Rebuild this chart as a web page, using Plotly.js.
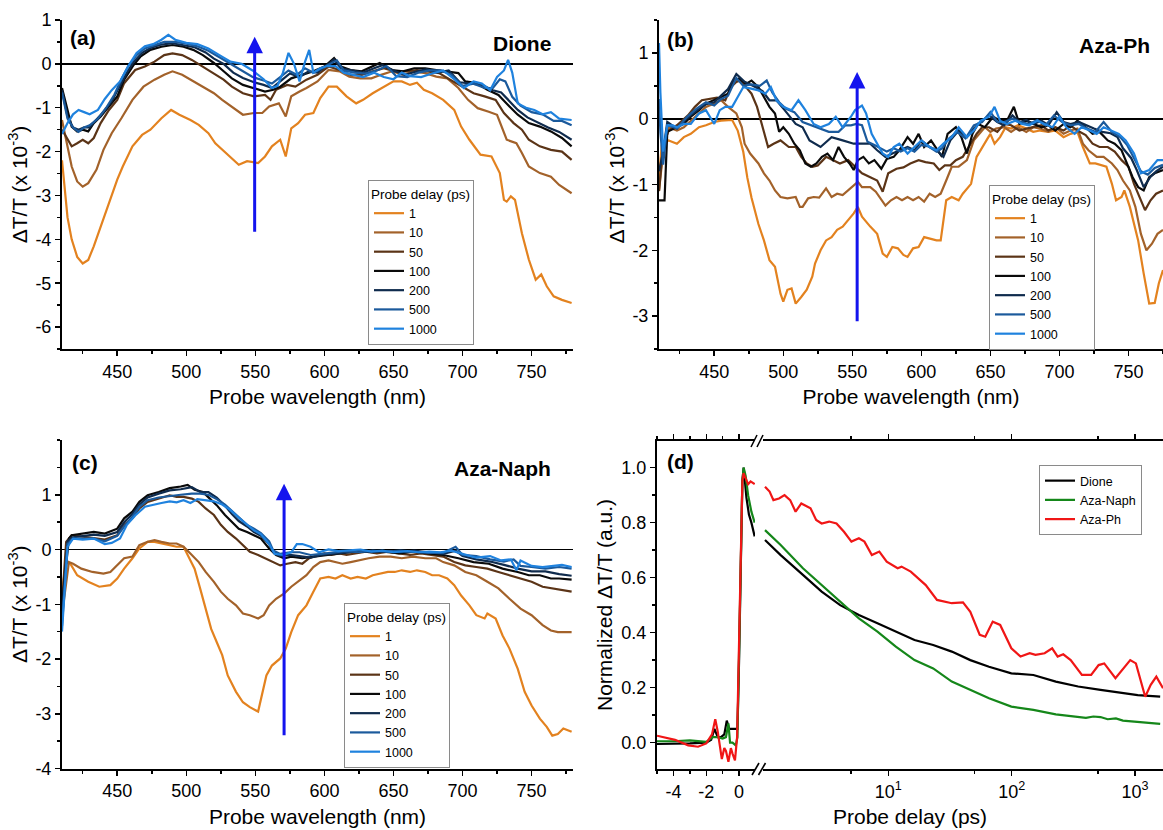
<!DOCTYPE html>
<html><head><meta charset="utf-8">
<script src="https://cdn.plot.ly/plotly-3.0.1.min.js"></script>
<style>html,body{margin:0;padding:0;background:#fff}#chart{width:1163px;height:830px}</style>
</head><body><div id="chart"></div>
<script>
// ---------------- DATA ----------------
const delays = ['1','10','50','100','200','500','1000'];
// Panel (a) Dione : [wavelength nm, dT/T x1e-3]
const a1 = [[410,-2.2],[414,-3.5],[417,-4.0],[421,-4.4],[425,-4.55],[429,-4.47],[433,-4.16],[438,-3.7],[444,-3.17],[450,-2.64],[454,-2.34],[461,-1.88],[468,-1.62],[474,-1.5],[482,-1.24],[489,-1.05],[495,-1.16],[503,-1.28],[509,-1.39],[516,-1.58],[521,-1.81],[530,-2.07],[538,-2.3],[544,-2.22],[552,-2.26],[557,-2.11],[562,-1.88],[568,-1.73],[572,-2.11],[576,-1.47],[581,-1.35],[586,-1.16],[592,-1.12],[597,-0.78],[603,-0.52],[609,-0.52],[616,-0.74],[623,-0.9],[628,-0.82],[635,-0.67],[643,-0.52],[650,-0.4],[656,-0.4],[662,-0.48],[667,-0.43],[672,-0.59],[678,-0.67],[686,-0.82],[694,-1.05],[699,-1.43],[705,-1.73],[713,-2.07],[721,-2.11],[727,-2.49],[730,-3.1],[732,-3.14],[735,-3.02],[738,-3.1],[743,-3.86],[748,-4.46],[753,-4.92],[757,-4.8],[761,-5.07],[766,-5.3],[772,-5.38],[779,-5.45]];
const a10 = [[410,-1.28],[413,-1.73],[417,-2.34],[421,-2.68],[425,-2.8],[429,-2.72],[435,-2.41],[440,-1.96],[446,-1.58],[453,-1.24],[461,-0.82],[469,-0.52],[477,-0.36],[484,-0.25],[490,-0.17],[497,-0.25],[503,-0.36],[511,-0.52],[520,-0.67],[526,-0.82],[533,-0.97],[541,-1.16],[549,-1.12],[555,-1.12],[560,-0.97],[567,-0.9],[572,-1.2],[576,-0.74],[582,-0.63],[587,-0.55],[595,-0.4],[603,-0.14],[611,-0.17],[618,-0.29],[626,-0.33],[634,-0.33],[641,-0.25],[649,-0.17],[657,-0.25],[665,-0.17],[673,-0.21],[681,-0.29],[689,-0.33],[697,-0.55],[704,-0.82],[711,-1.01],[719,-1.09],[725,-1.16],[732,-1.73],[739,-1.81],[743,-2.03],[748,-2.34],[756,-2.49],[764,-2.57],[770,-2.76],[779,-2.95]];
const a50 = [[410,-1.5],[417,-1.88],[421,-1.81],[425,-1.73],[429,-1.81],[433,-1.69],[438,-1.35],[444,-1.05],[450,-0.82],[455,-0.44],[463,-0.14],[470,-0.06],[477,0.05],[484,0.2],[490,0.24],[497,0.2],[504,0.09],[512,-0.06],[520,-0.21],[527,-0.36],[533,-0.52],[541,-0.67],[549,-0.74],[557,-0.71],[561,-0.82],[565,-0.59],[573,-0.48],[579,-0.52],[587,-0.36],[595,-0.25],[603,-0.06],[611,-0.14],[619,-0.25],[627,-0.25],[635,-0.17],[643,-0.1],[651,-0.17],[659,-0.17],[667,-0.14],[675,-0.17],[683,-0.21],[691,-0.36],[700,-0.52],[708,-0.67],[716,-0.74],[724,-0.82],[730,-1.12],[737,-1.35],[743,-1.5],[748,-1.73],[756,-1.88],[764,-1.96],[772,-2.0],[779,-2.19]];
const a100 = [[410,-0.55],[417,-1.43],[421,-1.54],[425,-1.5],[429,-1.54],[433,-1.35],[438,-1.2],[444,-0.97],[450,-0.74],[455,-0.36],[462,-0.02],[467,0.17],[474,0.32],[482,0.39],[490,0.43],[498,0.39],[505,0.32],[512,0.2],[520,0.02],[526,-0.14],[533,-0.33],[541,-0.48],[549,-0.55],[557,-0.63],[563,-0.59],[568,-0.52],[576,-0.33],[584,-0.25],[592,-0.17],[600,-0.06],[607,0.13],[612,-0.06],[619,-0.14],[627,-0.17],[635,-0.06],[640,0.02],[649,-0.14],[657,-0.17],[665,-0.1],[673,-0.1],[681,-0.14],[689,-0.17],[697,-0.21],[702,-0.4],[710,-0.44],[718,-0.59],[726,-0.71],[734,-0.97],[740,-1.16],[748,-1.35],[756,-1.43],[764,-1.54],[772,-1.69],[779,-1.88]];
const a200 = [[410,-0.6],[414,-1.2],[418,-1.45],[422,-1.5],[426,-1.45],[430,-1.45],[434,-1.3],[440,-1.1],[446,-0.85],[452,-0.5],[457,-0.2],[462,0.05],[468,0.25],[474,0.36],[482,0.44],[490,0.47],[498,0.43],[506,0.38],[514,0.26],[520,0.12],[527,0.0],[534,-0.2],[541,-0.32],[549,-0.42],[556,-0.48],[562,-0.55],[568,-0.4],[575,-0.22],[582,-0.3],[588,-0.18],[595,-0.2],[601,-0.05],[607,0.1],[612,-0.1],[620,-0.15],[628,-0.2],[636,-0.1],[642,-0.03],[650,-0.15],[658,-0.25],[666,-0.18],[674,-0.12],[682,-0.2],[690,-0.15],[698,-0.42],[706,-0.45],[714,-0.48],[722,-0.6],[728,-0.65],[734,-0.85],[740,-1.05],[747,-1.22],[755,-1.35],[762,-1.45],[770,-1.55],[779,-1.73]];
const a500 = [[410,-0.65],[414,-1.25],[418,-1.45],[422,-1.55],[426,-1.45],[430,-1.4],[436,-1.25],[442,-1.0],[448,-0.7],[453,-0.35],[458,-0.05],[464,0.2],[470,0.35],[476,0.42],[484,0.5],[492,0.5],[500,0.46],[508,0.4],[516,0.3],[524,0.15],[532,0.0],[540,-0.15],[548,-0.3],[556,-0.38],[562,-0.45],[568,-0.3],[574,-0.15],[580,-0.25],[586,-0.1],[592,-0.2],[598,-0.1],[604,0.0],[609,0.08],[614,-0.15],[622,-0.2],[630,-0.22],[638,-0.15],[645,-0.05],[652,-0.28],[660,-0.3],[668,-0.2],[676,-0.15],[684,-0.15],[692,-0.25],[700,-0.5],[708,-0.45],[716,-0.55],[722,-0.55],[727,-0.35],[731,-0.4],[736,-0.75],[742,-0.95],[750,-1.1],[758,-1.15],[766,-1.3],[772,-1.3],[779,-1.4]];
const a1000 = [[410,-1.6],[414,-1.35],[418,-1.15],[422,-1.05],[426,-1.1],[430,-1.15],[436,-1.05],[441,-0.8],[446,-0.6],[452,-0.4],[458,-0.05],[464,0.25],[470,0.4],[476,0.45],[482,0.55],[487,0.66],[492,0.55],[500,0.48],[508,0.45],[516,0.35],[524,0.2],[532,0.05],[540,0.0],[548,-0.15],[556,-0.35],[562,-0.55],[566,-0.5],[570,-0.2],[574,0.25],[578,0.0],[582,-0.4],[586,0.05],[589,0.32],[592,-0.2],[597,-0.1],[602,-0.05],[608,-0.05],[614,-0.2],[621,-0.25],[628,-0.3],[636,-0.2],[643,-0.3],[650,-0.35],[656,-0.2],[662,-0.28],[670,-0.3],[678,-0.22],[686,-0.15],[694,-0.35],[701,-0.55],[708,-0.4],[714,-0.45],[720,-0.6],[725,-0.3],[730,-0.15],[733,0.09],[736,-0.2],[740,-0.9],[746,-1.0],[752,-1.05],[758,-1.15],[764,-1.1],[770,-1.25],[779,-1.28]];

// Panel (b) Aza-Ph
const b1 = [[410,-0.9],[412,-0.4],[417,-0.33],[423,-0.38],[428,-0.28],[433,-0.23],[439,-0.13],[444,-0.1],[450,-0.05],[455,-0.03],[463,-0.02],[467,-0.18],[471,-0.5],[474,-0.9],[477,-1.2],[482,-1.6],[486,-1.85],[490,-2.15],[494,-2.25],[498,-2.66],[500,-2.78],[503,-2.6],[506,-2.58],[509,-2.81],[513,-2.71],[517,-2.6],[521,-2.4],[523,-2.2],[527,-2.0],[531,-1.85],[535,-1.8],[539,-1.69],[543,-1.64],[547,-1.54],[551,-1.44],[554,-1.34],[557,-1.49],[563,-1.64],[568,-1.75],[572,-2.05],[575,-2.1],[579,-1.95],[583,-1.97],[587,-2.07],[590,-2.1],[594,-1.97],[598,-1.95],[602,-1.8],[606,-1.82],[611,-1.85],[614,-1.85],[618,-1.24],[622,-1.19],[627,-1.24],[630,-1.14],[636,-0.99],[640,-0.58],[644,-0.43],[648,-0.3],[650,-0.23],[653,-0.38],[657,-0.28],[661,-0.13],[665,-0.15],[670,-0.1],[676,-0.15],[681,-0.2],[686,-0.18],[692,-0.2],[697,-0.18],[703,-0.28],[708,-0.23],[713,-0.2],[717,-0.43],[722,-0.68],[726,-0.68],[730,-0.7],[734,-0.73],[738,-0.99],[741,-1.24],[745,-1.19],[747,-1.09],[751,-1.34],[757,-1.85],[761,-2.35],[765,-2.81],[769,-2.8],[772,-2.5],[775,-2.3]];
const b10 = [[410,-1.1],[413,-0.5],[417,-0.13],[423,-0.18],[428,-0.13],[433,-0.03],[439,0.08],[444,0.18],[450,0.23],[455,0.28],[460,0.18],[463,0.13],[466,0.08],[470,-0.13],[472,-0.38],[476,-0.53],[482,-0.68],[486,-0.83],[490,-0.94],[494,-1.09],[498,-1.19],[503,-1.21],[509,-1.19],[512,-1.34],[514,-1.34],[518,-1.21],[522,-1.19],[526,-1.2],[531,-1.06],[535,-1.19],[539,-1.14],[543,-1.16],[547,-1.09],[551,-1.01],[554,-0.96],[557,-1.04],[563,-1.04],[567,-1.11],[571,-1.24],[574,-1.32],[578,-1.24],[582,-1.19],[586,-1.24],[590,-1.19],[594,-1.24],[598,-1.19],[602,-1.26],[606,-1.14],[610,-1.19],[614,-1.14],[618,-0.94],[622,-0.73],[627,-0.73],[633,-0.63],[638,-0.33],[642,-0.23],[646,-0.13],[650,-0.2],[654,-0.15],[660,-0.13],[665,-0.2],[670,-0.13],[676,-0.2],[681,-0.13],[686,-0.15],[692,-0.2],[697,-0.13],[703,-0.23],[708,-0.18],[713,-0.15],[717,-0.38],[721,-0.48],[727,-0.58],[732,-0.58],[738,-0.68],[742,-0.78],[746,-0.94],[751,-1.09],[755,-1.34],[759,-1.75],[763,-2.0],[767,-1.9],[771,-1.75],[775,-1.69]];
const b50 = [[410,-1.1],[413,-0.4],[417,-0.18],[423,-0.1],[431,0.05],[436,0.18],[441,0.28],[447,0.3],[452,0.32],[458,0.28],[462,0.48],[466,0.56],[469,0.58],[473,0.48],[477,0.38],[481,0.18],[485,-0.13],[489,-0.43],[493,-0.38],[498,-0.33],[504,-0.43],[509,-0.43],[513,-0.58],[517,-0.68],[521,-0.73],[525,-0.71],[531,-0.58],[536,-0.63],[541,-0.68],[547,-0.63],[552,-0.73],[557,-0.83],[563,-0.89],[568,-0.94],[572,-1.11],[576,-0.83],[582,-0.76],[587,-0.74],[592,-0.68],[598,-0.63],[603,-0.66],[609,-0.68],[613,-0.78],[617,-0.71],[621,-0.71],[625,-0.63],[630,-0.58],[636,-0.38],[640,-0.23],[644,-0.13],[649,-0.13],[655,-0.2],[660,-0.08],[665,-0.1],[671,-0.18],[676,-0.15],[681,-0.13],[687,-0.1],[692,-0.18],[697,-0.13],[703,-0.18],[708,-0.1],[713,-0.18],[719,-0.25],[724,-0.38],[729,-0.43],[735,-0.43],[740,-0.5],[745,-0.63],[750,-0.73],[754,-0.99],[758,-1.19],[762,-1.39],[766,-1.24],[770,-1.14],[775,-1.09]];
const b100 = [[410,-1.24],[414,-1.24],[416,-0.2],[423,-0.13],[428,-0.08],[433,0.03],[439,0.13],[444,0.23],[450,0.28],[455,0.33],[460,0.38],[464,0.58],[468,0.61],[473,0.53],[477,0.58],[482,0.48],[486,0.33],[490,0.18],[494,0.08],[497,-0.2],[500,-0.13],[504,-0.23],[508,-0.38],[512,-0.48],[516,-0.68],[520,-0.73],[524,-0.68],[528,-0.58],[532,-0.53],[536,-0.63],[540,-0.43],[544,-0.58],[548,-0.68],[551,-0.78],[554,-0.63],[558,-0.58],[562,-0.68],[566,-0.63],[571,-0.76],[575,-0.61],[580,-0.58],[584,-0.48],[590,-0.28],[594,-0.38],[598,-0.23],[602,-0.43],[607,-0.33],[611,-0.46],[615,-0.58],[619,-0.23],[625,-0.13],[629,-0.28],[633,-0.53],[637,-0.23],[641,-0.08],[646,-0.13],[652,0.03],[657,-0.03],[662,-0.03],[667,0.18],[671,-0.08],[676,-0.03],[681,-0.08],[687,-0.13],[692,-0.1],[697,-0.18],[703,-0.08],[708,-0.13],[713,-0.03],[719,-0.13],[724,-0.23],[729,-0.2],[735,-0.33],[740,-0.38],[745,-0.48],[749,-0.68],[753,-0.89],[757,-1.04],[761,-1.09],[765,-0.89],[769,-0.83],[775,-0.78]];
const b200 = [[410,-0.8],[413,-0.5],[416,-0.05],[423,-0.15],[430,0.0],[437,0.12],[444,0.22],[450,0.25],[455,0.35],[460,0.45],[466,0.68],[472,0.56],[478,0.5],[485,0.42],[490,0.28],[495,0.28],[501,0.13],[509,-0.08],[514,-0.13],[519,-0.33],[527,-0.43],[535,-0.28],[543,-0.33],[551,-0.38],[554,-0.38],[558,-0.38],[563,-0.38],[568,-0.48],[574,-0.58],[579,-0.53],[584,-0.48],[590,-0.43],[595,-0.48],[600,-0.33],[606,-0.43],[611,-0.48],[616,-0.58],[621,-0.33],[627,-0.18],[633,-0.28],[638,-0.15],[643,-0.05],[649,0.05],[655,-0.05],[660,-0.1],[666,0.05],[671,-0.05],[676,-0.02],[681,-0.08],[687,-0.03],[692,-0.1],[698,0.1],[703,-0.05],[708,-0.08],[714,-0.05],[719,-0.1],[725,-0.15],[731,-0.2],[737,-0.22],[742,-0.28],[746,-0.45],[752,-0.6],[756,-0.78],[761,-1.04],[766,-0.88],[770,-0.8],[775,-0.73]];
const b500 = [[410,0.3],[411,-0.2],[413,-0.7],[416,-0.1],[423,-0.15],[430,0.02],[437,0.15],[444,0.25],[450,0.2],[455,0.3],[460,0.35],[466,0.62],[471,0.5],[477,0.52],[483,0.5],[488,0.58],[492,0.4],[497,0.25],[502,0.15],[508,0.1],[514,-0.05],[520,-0.1],[527,-0.15],[533,-0.2],[540,-0.2],[545,-0.1],[549,-0.1],[553,-0.08],[557,-0.1],[561,-0.35],[566,-0.4],[570,-0.45],[575,-0.5],[580,-0.45],[585,-0.5],[590,-0.45],[595,-0.5],[600,-0.4],[605,-0.42],[611,-0.5],[615,-0.45],[620,-0.3],[626,-0.2],[632,-0.3],[638,-0.1],[644,-0.05],[650,0.1],[655,-0.05],[660,-0.05],[666,0.0],[672,-0.05],[678,-0.08],[684,-0.02],[690,-0.1],[696,0.05],[702,-0.05],[708,-0.1],[714,-0.08],[720,-0.15],[726,-0.2],[732,-0.05],[738,-0.2],[744,-0.28],[749,-0.4],[754,-0.6],[759,-0.8],[764,-0.85],[769,-0.75],[775,-0.7]];
const b1000 = [[410,1.15],[411,0.4],[413,-0.5],[414,-0.35],[416,-0.1],[420,-0.1],[423,-0.13],[428,-0.08],[433,-0.08],[439,0.08],[444,0.13],[450,-0.08],[454,0.13],[458,0.18],[463,0.18],[467,0.33],[471,0.48],[476,0.46],[482,0.43],[487,0.38],[491,0.48],[495,0.28],[500,0.18],[506,0.13],[511,0.28],[516,0.13],[522,-0.08],[527,-0.13],[533,-0.08],[538,0.03],[543,-0.13],[549,0.03],[552,0.13],[557,0.2],[560,0.08],[564,-0.23],[568,-0.38],[572,-0.53],[576,-0.58],[580,-0.43],[584,-0.38],[590,-0.53],[595,-0.43],[600,-0.33],[606,-0.43],[611,-0.48],[616,-0.38],[622,-0.28],[627,-0.13],[633,-0.28],[638,-0.18],[643,-0.03],[649,0.03],[653,0.18],[657,-0.03],[662,-0.08],[668,-0.03],[673,-0.08],[678,-0.1],[684,-0.03],[689,-0.08],[695,-0.13],[700,0.03],[705,-0.13],[711,-0.23],[716,-0.13],[722,-0.18],[727,-0.23],[732,-0.13],[738,-0.18],[743,-0.23],[748,-0.33],[754,-0.53],[759,-0.83],[765,-0.78],[771,-0.63],[775,-0.63]];

// Panel (c) Aza-Naph
const c1 = [[410,-0.77],[413,-0.23],[416,-0.26],[421,-0.47],[429,-0.59],[437,-0.68],[445,-0.65],[450,-0.53],[455,-0.35],[461,-0.16],[466,0.02],[472,0.14],[477,0.14],[482,0.11],[488,0.08],[493,0.05],[498,0.05],[501,-0.1],[506,-0.35],[510,-0.71],[514,-1.08],[518,-1.45],[522,-1.69],[526,-1.93],[530,-2.3],[536,-2.6],[541,-2.79],[546,-2.88],[552,-2.96],[554,-2.73],[558,-2.3],[562,-2.12],[568,-1.99],[572,-1.81],[576,-1.51],[581,-1.2],[587,-1.02],[592,-0.77],[597,-0.53],[603,-0.5],[608,-0.53],[613,-0.47],[619,-0.53],[624,-0.5],[630,-0.53],[635,-0.47],[640,-0.44],[646,-0.41],[651,-0.41],[656,-0.38],[662,-0.41],[667,-0.38],[673,-0.41],[678,-0.47],[683,-0.47],[689,-0.53],[694,-0.65],[699,-0.84],[705,-1.02],[710,-1.2],[716,-1.26],[718,-1.17],[724,-1.26],[729,-1.57],[734,-1.81],[740,-2.18],[745,-2.6],[750,-2.85],[756,-3.09],[761,-3.24],[765,-3.4],[769,-3.37],[773,-3.27],[779,-3.33]];
const c10 = [[410,-1.2],[415,-0.23],[418,-0.26],[424,-0.35],[432,-0.41],[440,-0.44],[445,-0.41],[450,-0.29],[455,-0.16],[461,-0.13],[466,0.08],[472,0.14],[477,0.17],[482,0.14],[488,0.11],[493,0.11],[498,0.05],[504,-0.1],[509,-0.23],[514,-0.41],[520,-0.59],[525,-0.77],[530,-0.9],[536,-1.02],[541,-1.17],[546,-1.2],[552,-1.26],[556,-1.2],[560,-1.02],[565,-0.9],[571,-0.8],[576,-0.68],[581,-0.59],[587,-0.47],[592,-0.32],[597,-0.23],[603,-0.2],[608,-0.23],[613,-0.26],[619,-0.23],[624,-0.2],[632,-0.16],[640,-0.13],[648,-0.13],[656,-0.16],[664,-0.13],[673,-0.16],[681,-0.16],[686,-0.23],[694,-0.29],[702,-0.41],[710,-0.47],[718,-0.59],[726,-0.71],[734,-0.9],[742,-1.08],[750,-1.2],[758,-1.38],[764,-1.48],[769,-1.51],[779,-1.51]];
const c50 = [[410,-1.0],[413,0.14],[417,0.26],[425,0.23],[433,0.2],[441,0.18],[450,0.26],[455,0.45],[461,0.57],[466,0.75],[472,0.87],[480,0.93],[488,0.99],[493,0.96],[498,0.96],[504,0.93],[509,0.87],[514,0.75],[520,0.63],[525,0.45],[530,0.32],[536,0.2],[541,0.08],[546,-0.04],[552,-0.1],[557,-0.16],[562,-0.23],[568,-0.29],[573,-0.26],[579,-0.23],[584,-0.26],[589,-0.16],[595,-0.1],[600,-0.07],[605,-0.1],[611,-0.07],[616,-0.1],[622,-0.07],[630,-0.04],[638,-0.07],[646,-0.04],[654,-0.07],[662,-0.1],[670,-0.07],[678,-0.1],[686,-0.13],[694,-0.23],[702,-0.29],[710,-0.32],[718,-0.35],[726,-0.41],[734,-0.47],[742,-0.53],[750,-0.59],[758,-0.68],[766,-0.71],[773,-0.74],[779,-0.77]];
const c100 = [[410,-1.0],[415,0.2],[417,0.26],[425,0.29],[433,0.32],[441,0.29],[450,0.38],[455,0.57],[461,0.69],[466,0.87],[472,0.99],[480,1.05],[488,1.12],[496,1.15],[501,1.18],[506,1.09],[512,1.05],[517,0.93],[522,0.81],[528,0.63],[533,0.51],[538,0.38],[544,0.32],[549,0.26],[554,0.2],[560,0.02],[565,-0.1],[571,-0.16],[576,-0.13],[584,-0.16],[592,-0.13],[600,-0.1],[611,-0.07],[622,-0.04],[632,-0.04],[643,-0.04],[654,-0.07],[665,-0.04],[675,-0.07],[686,-0.1],[697,-0.16],[708,-0.23],[719,-0.26],[729,-0.35],[740,-0.41],[748,-0.47],[756,-0.47],[764,-0.53],[770,-0.53],[779,-0.55]];
const c200 = [[410,-1.2],[414,0.15],[417,0.22],[425,0.25],[433,0.27],[441,0.25],[450,0.32],[455,0.5],[461,0.65],[466,0.82],[472,0.95],[480,1.02],[488,1.08],[496,1.1],[504,1.14],[510,1.05],[516,1.05],[522,0.95],[528,0.8],[533,0.65],[538,0.52],[544,0.42],[549,0.32],[554,0.25],[560,0.1],[563,-0.05],[568,-0.12],[575,-0.1],[582,-0.12],[590,-0.15],[598,-0.1],[606,-0.08],[615,-0.05],[625,-0.03],[635,-0.05],[645,-0.03],[655,-0.05],[665,-0.02],[675,-0.05],[686,-0.08],[695,-0.02],[700,-0.12],[710,-0.18],[720,-0.22],[730,-0.28],[740,-0.35],[750,-0.4],[760,-0.4],[770,-0.45],[779,-0.48]];
const c500 = [[410,-1.4],[414,0.1],[418,0.2],[425,0.2],[433,0.2],[441,0.15],[450,0.25],[455,0.42],[461,0.6],[466,0.78],[472,0.9],[480,0.95],[488,0.98],[496,1.0],[504,1.02],[510,1.02],[516,1.0],[522,0.92],[528,0.82],[533,0.7],[538,0.58],[544,0.45],[549,0.38],[554,0.3],[560,0.15],[563,-0.02],[568,-0.08],[575,-0.05],[582,-0.05],[590,-0.1],[598,-0.08],[606,-0.05],[615,-0.03],[625,-0.05],[635,-0.02],[645,-0.04],[655,-0.02],[665,-0.04],[675,-0.06],[686,-0.06],[695,0.05],[700,-0.1],[710,-0.12],[720,-0.18],[730,-0.22],[737,-0.18],[742,-0.3],[750,-0.32],[760,-0.35],[770,-0.32],[779,-0.35]];
const c1000 = [[410,-1.5],[414,0.05],[418,0.2],[425,0.18],[433,0.2],[441,0.1],[446,0.12],[452,0.2],[457,0.45],[463,0.62],[470,0.78],[476,0.82],[482,0.85],[488,0.88],[493,0.86],[498,0.9],[503,0.85],[508,0.92],[514,0.9],[520,0.88],[526,0.82],[532,0.72],[538,0.58],[544,0.45],[549,0.35],[554,0.28],[560,0.1],[564,-0.08],[570,-0.1],[576,-0.05],[580,0.1],[584,0.1],[590,0.05],[596,-0.05],[603,0.0],[610,-0.03],[618,-0.02],[626,0.0],[634,-0.04],[642,-0.02],[650,-0.05],[660,-0.03],[668,-0.05],[676,-0.04],[684,-0.05],[692,-0.02],[700,-0.08],[710,-0.15],[720,-0.12],[728,-0.2],[735,-0.18],[739,-0.38],[742,-0.2],[750,-0.3],[758,-0.32],[766,-0.3],[772,-0.28],[779,-0.32]];

// Panel (d) kinetics : [delay ps, normalized dT/T]
const kinNames = ['Dione','Aza-Naph','Aza-Ph'];
const dioneEarly = [[-5,-0.005],[-4,-0.005],[-3,-0.003],[-2,0.0],[-1.7,0.01],[-1.5,0.05],[-1.3,0.02],[-1.1,0.02],[-0.9,0.03],[-0.75,0.08],[-0.6,0.05],[-0.4,0.05],[-0.2,0.05],[-0.1,0.05],[0.0,0.3],[0.1,0.7],[0.2,0.95],[0.28,1.0],[0.35,0.95],[0.45,0.89],[0.6,0.83],[0.75,0.8],[0.95,0.75]];
const naphEarly = [[-5,0.005],[-4,0.005],[-3,0.008],[-2,0.003],[-1.6,0.02],[-1.3,0.02],[-1.0,0.015],[-0.8,0.02],[-0.65,0.07],[-0.55,0.0],[-0.4,0.0],[-0.2,-0.01],[-0.1,0.02],[0.0,0.3],[0.1,0.7],[0.2,0.95],[0.28,1.0],[0.4,0.97],[0.55,0.9],[0.75,0.84],[0.95,0.8]];
const phEarly = [[-5,0.025],[-3.9,0.01],[-3.1,-0.01],[-2.5,-0.015],[-2.0,-0.003],[-1.65,0.03],[-1.45,0.085],[-1.3,0.04],[-1.15,-0.02],[-1.05,-0.06],[-0.9,-0.02],[-0.8,-0.03],[-0.65,-0.07],[-0.5,-0.02],[-0.4,-0.04],[-0.25,-0.065],[-0.12,0.02],[0.0,0.35],[0.1,0.75],[0.2,0.95],[0.27,0.98],[0.4,0.96],[0.55,0.94],[0.7,0.95],[0.95,0.94]];
const dioneLate = [[1.0,0.737],[1.34,0.682],[2.03,0.61],[2.88,0.549],[4.07,0.5],[5.77,0.464],[8.16,0.434],[11.5,0.404],[16.3,0.373],[23.1,0.355],[32.7,0.331],[46.2,0.3],[65.5,0.276],[99.4,0.252],[150,0.246],[228,0.222],[346,0.204],[525,0.192],[798,0.179],[1052,0.173],[1600,0.167]];
const naphLate = [[1.0,0.773],[1.34,0.719],[2.03,0.634],[2.88,0.573],[4.07,0.513],[5.77,0.452],[8.16,0.404],[11.5,0.349],[16.3,0.3],[23.1,0.27],[32.7,0.222],[46.2,0.192],[65.5,0.161],[99.4,0.131],[150,0.119],[228,0.103],[346,0.095],[400,0.09],[460,0.095],[525,0.093],[600,0.085],[700,0.088],[798,0.08],[1052,0.075],[1600,0.068]];
const phLate = [[1.0,0.931],[1.09,0.913],[1.17,0.882],[1.3,0.888],[1.44,0.9],[1.6,0.882],[1.77,0.84],[1.97,0.87],[2.34,0.852],[2.6,0.81],[2.88,0.797],[3.31,0.804],[3.8,0.797],[4.37,0.767],[5.02,0.731],[5.77,0.743],[6.4,0.731],[7.35,0.682],[8.45,0.695],[9.7,0.658],[11.9,0.634],[12.8,0.64],[15.2,0.622],[20.1,0.573],[24.8,0.519],[32.7,0.507],[40.3,0.51],[46.2,0.476],[55.1,0.392],[61.1,0.385],[70.2,0.44],[80.7,0.428],[99.4,0.343],[118,0.313],[140,0.325],[156,0.319],[185,0.325],[213,0.343],[236,0.313],[262,0.321],[301,0.3],[371,0.246],[441,0.246],[507,0.282],[563,0.288],[694,0.234],[915,0.3],[1017,0.288],[1210,0.167],[1341,0.21],[1489,0.24],[1687,0.198]];

// Arrows [x, tail y, head y]
const arrowA = [549.5, -3.86, 0.62];
const arrowB = [553.5, -3.1, 0.71];
const arrowC = [570.8, -3.42, 1.2];

// Tick labels
const aYTicks = [-6,-5,-4,-3,-2,-1,0,1];
const bYTicks = [-3,-2,-1,0,1];
const cYTicks = [-4,-3,-2,-1,0,1];
const dYTicks = [0,0.2,0.4,0.6,0.8,1.0];
const dEarlyTicks = [-4,-2,0];
const dLogTicks = [10,100,1000];
const dLogTickText = ['10<sup>1</sup>','10<sup>2</sup>','10<sup>3</sup>'];
const dLogMinor = [5,50,500];

// ---------------- STYLE ----------------
const delayColors = ['#E3821F','#A3622A','#5B3417','#0A0A0A','#0F2B4D','#1B5A9C','#1F82DE'];
const kinColors = ['#000000','#15871A','#F01616'];
const W = 1163, H = 830;
const PX = v => v / W;
const PY = v => 1 - v / H;
const F = '"Liberation Sans", Arial, sans-serif';
const tickFont = {family: F, size: 18, color: '#000'};
const titleFont = {family: F, size: 21, color: '#000'};
const legFont = {family: F, size: 12.5, color: '#000'};
const lab = v => String(v);

function spectra(sets, xa, ya, leg) {
  return sets.map((pts, i) => ({
    type: 'scatter', mode: 'lines', x: pts.map(p => p[0]), y: pts.map(p => p[1]),
    xaxis: xa, yaxis: ya, name: delays[i], legend: leg,
    line: {color: delayColors[i], width: 2.2}
  }));
}
function kin(pts, xa, i, show) {
  return {type: 'scatter', mode: 'lines', x: pts.map(p => p[0]), y: pts.map(p => p[1]),
    xaxis: xa, yaxis: 'y7', name: kinNames[i], legend: 'legend4', showlegend: show,
    line: {color: kinColors[i], width: 2.2}};
}
const baseAx = {showline: true, linewidth: 2, linecolor: '#000', ticks: 'outside', ticklen: 5,
  tickwidth: 1.5, tickcolor: '#000', showgrid: false, zeroline: false, tickfont: tickFont};
function wlX(domain, range, anchor) {
  return Object.assign({}, baseAx, {domain, range, anchor, tickmode: 'linear', tick0: 0, dtick: 50,
    minor: {tickmode: 'linear', tick0: 0, dtick: 25, ticks: 'outside', ticklen: 3, tickwidth: 1.5, tickcolor: '#000', showgrid: false},
    title: {text: 'Probe wavelength (nm)', font: titleFont, standoff: 9}});
}
function topOf(base, overlay, anchor) {
  return Object.assign({}, baseAx, {overlaying: overlay, side: 'top', anchor, range: base.range,
    tickmode: base.tickmode, tick0: base.tick0, dtick: base.dtick,
    ticks: 'inside', showticklabels: false,
    minor: Object.assign({}, base.minor, {ticks: 'inside'})});
}
function valY(domain, range, anchor, ticks, titleText, zero) {
  return Object.assign({}, baseAx, {domain, range, anchor, tickmode: 'array', tickvals: ticks,
    ticktext: ticks.map(lab),
    minor: {tickmode: 'linear', tick0: 0, dtick: 0.5, ticks: 'outside', ticklen: 3, tickwidth: 1.5, tickcolor: '#000', showgrid: false},
    zeroline: zero, zerolinecolor: '#000', zerolinewidth: 1.6,
    title: {text: titleText, font: titleFont, standoff: 2}});
}
function rightOf(base, overlay, anchor) {
  return Object.assign({}, baseAx, {overlaying: overlay, side: 'right', anchor, range: base.range,
    tickmode: 'array', tickvals: base.tickvals, ticks: 'inside', showticklabels: false,
    minor: Object.assign({}, base.minor, {ticks: 'inside'})});
}

const dtTitle = '\u0394T/T (x 10<sup>-3</sup>)';
const xa = wlX([PX(62), PX(573)], [410, 780], 'y');
const ya = valY([PY(349), PY(20)], [-6.5, 1.0], 'x', aYTicks, dtTitle, true);
const xb = wlX([PX(659), 1], [410, 775], 'y3');
const yb = valY([PY(349), PY(20)], [-3.5, 1.5], 'x3', bYTicks, dtTitle, true);
const xc = wlX([PX(62), PX(573)], [410, 780], 'y5');
const yc = valY([PY(768.5), PY(440)], [-4, 2], 'x5', cYTicks, dtTitle, true);

const xdEarly = Object.assign({}, baseAx, {domain: [PX(657), PX(755)], range: [-5, 0.97], anchor: 'y7', mirror: 'ticks',
  tickmode: 'array', tickvals: dEarlyTicks, ticktext: dEarlyTicks.map(lab),
  minor: {tickmode: 'linear', tick0: 0, dtick: 1, ticks: 'outside', ticklen: 3, tickwidth: 1.5, tickcolor: '#000', showgrid: false}});
const xdLate = Object.assign({}, baseAx, {domain: [PX(763), 1], range: [-0.0162, 3.227], anchor: 'y7', type: 'log', mirror: 'ticks',
  tickmode: 'array', tickvals: dLogTicks, ticktext: dLogTickText,
  minor: {tickmode: 'array', tickvals: dLogMinor, ticks: 'outside', ticklen: 3, tickwidth: 1.5, tickcolor: '#000', showgrid: false}});
const yd = Object.assign({}, baseAx, {domain: [PY(769), PY(441)], range: [-0.096, 1.097], anchor: 'x7',
  tickmode: 'array', tickvals: dYTicks, ticktext: dYTicks.map(v => v.toFixed(1)),
  minor: {tickmode: 'linear', tick0: 0, dtick: 0.1, ticks: 'outside', ticklen: 3, tickwidth: 1.5, tickcolor: '#000', showgrid: false},
  title: {text: 'Normalized \u0394T/T (a.u.)', font: titleFont, standoff: 3}});

const legendBase = {xref: 'paper', yref: 'paper', xanchor: 'left', yanchor: 'top', bgcolor: '#fff',
  bordercolor: '#8a8a8a', borderwidth: 1, font: legFont, tracegroupgap: 0, itemwidth: 30};
function legendAt(x, y, withTitle) {
  return Object.assign({}, legendBase, {x: PX(x), y: PY(y),
    title: withTitle ? {text: 'Probe delay (ps)', font: {family: F, size: 13.5, color: '#000'}} : {text: ''}});
}

const traces = [].concat(
  spectra([a1, a10, a50, a100, a200, a500, a1000], 'x', 'y', 'legend'),
  spectra([b1, b10, b50, b100, b200, b500, b1000], 'x3', 'y3', 'legend2'),
  spectra([c1, c10, c50, c100, c200, c500, c1000], 'x5', 'y5', 'legend3'),
  [kin(dioneEarly, 'x7', 0, false), kin(naphEarly, 'x7', 1, false), kin(phEarly, 'x7', 2, false),
   kin(dioneLate, 'x8', 0, true), kin(naphLate, 'x8', 1, true), kin(phLate, 'x8', 2, true)]
);

function arrow(a, xr, yr) {
  return {x: a[0], y: a[2], ax: a[0], ay: a[1], xref: xr, yref: yr, axref: xr, ayref: yr,
    text: '', showarrow: true, arrowhead: 2, arrowsize: 1.1, arrowwidth: 3, arrowcolor: '#1414EE', standoff: 0};
}
function label(txt, x, y, anchor) {
  return {text: '<b>' + txt + '</b>', x: PX(x), y: PY(y), xref: 'paper', yref: 'paper', xanchor: anchor,
    yanchor: 'middle', showarrow: false, font: {family: F, size: 21, color: '#000'}};
}
const annotations = [
  arrow(arrowA, 'x', 'y'), arrow(arrowB, 'x3', 'y3'), arrow(arrowC, 'x5', 'y5'),
  label('(a)', 68, 37, 'left'), label('Dione', 553, 44, 'right'),
  label('(b)', 665, 39, 'left'), label('Aza-Ph', 1152, 45, 'right'),
  label('(c)', 70, 462, 'left'), label('Aza-Naph', 553, 468, 'right'),
  label('(d)', 665, 461, 'left'),
  {text: 'Probe delay (ps)', x: PX(910), y: PY(816), xref: 'paper', yref: 'paper', xanchor: 'center', yanchor: 'middle',
   showarrow: false, font: titleFont}
];
function seg(x0, y0, x1, y1) {
  return {type: 'line', xref: 'paper', yref: 'paper', x0: PX(x0), y0: PY(y0), x1: PX(x1), y1: PY(y1),
    line: {color: '#000', width: 1.6}};
}
const shapes = [seg(751, 447, 757, 435), seg(757, 447, 763, 435), seg(752, 775, 759, 763), seg(758.5, 775, 765.5, 763)];

const layout = {
  width: W, height: H, margin: {l: 0, r: 0, t: 0, b: 0}, paper_bgcolor: '#fff', plot_bgcolor: 'rgba(0,0,0,0)',
  font: {family: F, color: '#000'}, showlegend: true,
  xaxis: xa, yaxis: ya, xaxis2: topOf(xa, 'x', 'y'), yaxis2: rightOf(ya, 'y', 'x'),
  xaxis3: xb, yaxis3: yb, xaxis4: topOf(xb, 'x3', 'y3'),
  xaxis5: xc, yaxis5: yc, xaxis6: topOf(xc, 'x5', 'y5'), yaxis6: rightOf(yc, 'y5', 'x5'),
  xaxis7: xdEarly, xaxis8: xdLate, yaxis7: yd,
  legend: legendAt(368, 180, true), legend2: legendAt(989, 185, true),
  legend3: legendAt(344, 603, true), legend4: legendAt(1039, 465, false),
  annotations, shapes
};
Plotly.newPlot('chart', traces, layout, {staticPlot: true, displayModeBar: false});
</script></body></html>
